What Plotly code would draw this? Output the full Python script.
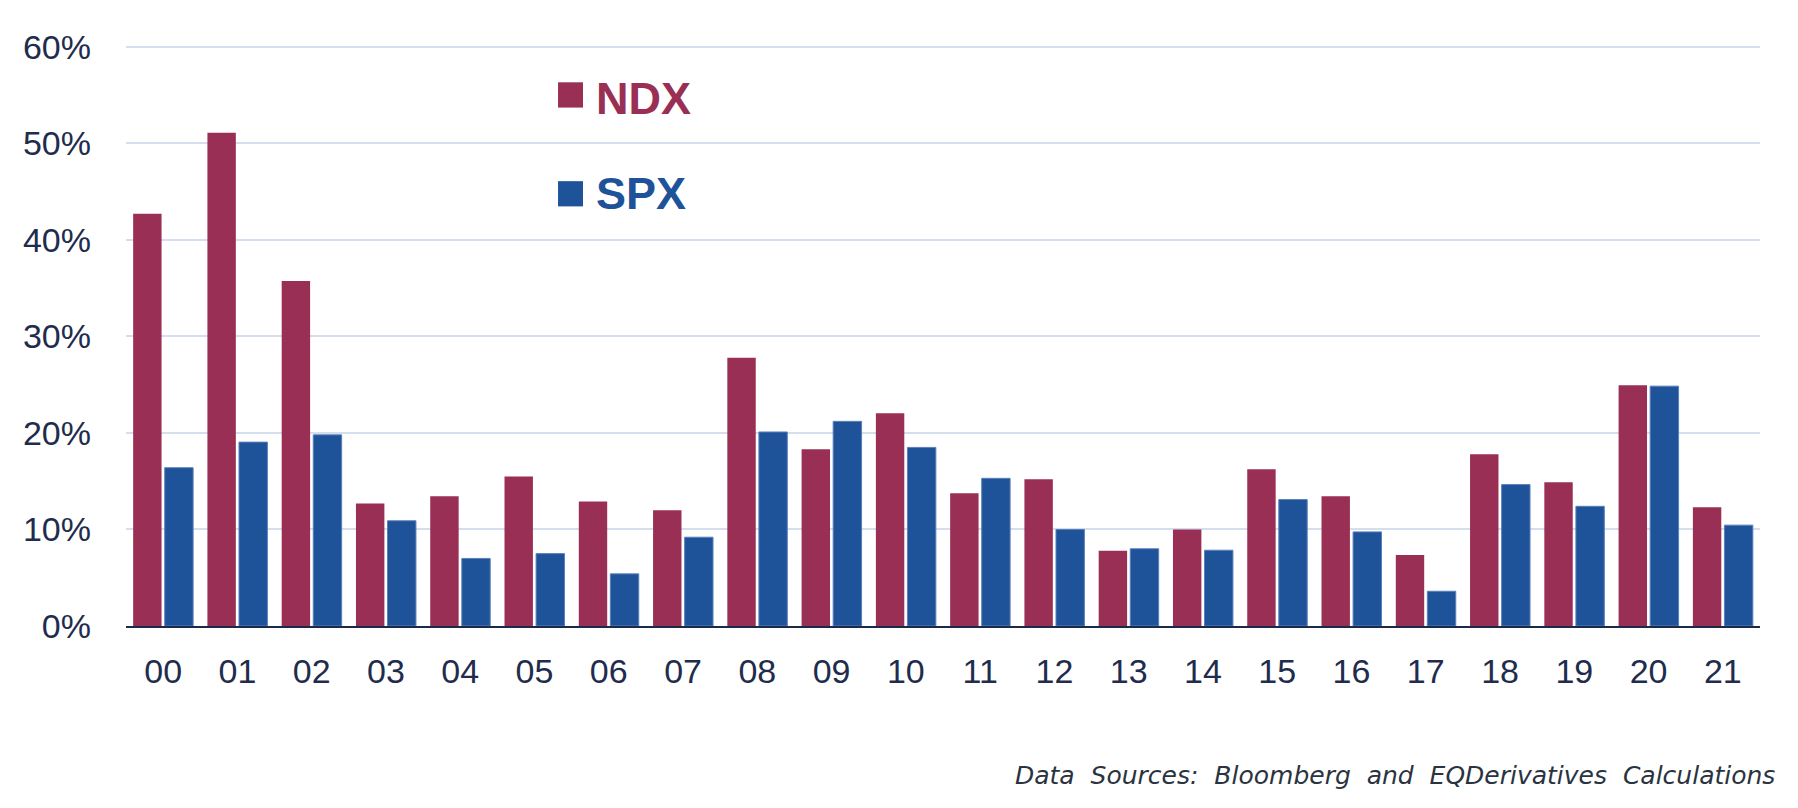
import plotly.graph_objects as go

years = ["00", "01", "02", "03", "04", "05", "06", "07", "08", "09", "10",
         "11", "12", "13", "14", "15", "16", "17", "18", "19", "20", "21"]
ndx = [42.7, 51.1, 35.75, 12.7, 13.45, 15.5, 12.9, 12.0, 27.8, 18.3, 22.05,
       13.75, 15.2, 7.8, 10.0, 16.25, 13.45, 7.35, 17.8, 14.9, 24.95, 12.3]
spx = [16.4, 19.05, 19.8, 10.9, 7.0, 7.5, 5.4, 9.2, 20.1, 21.2, 18.5,
       15.3, 10.0, 8.0, 7.85, 13.1, 9.75, 3.6, 14.65, 12.4, 24.85, 10.45]
y_ticks = [0, 0.1, 0.2, 0.3, 0.4, 0.5, 0.6]

NDX_COLOR = "#9a2f55"
SPX_COLOR = "#1f5399"
TEXT_COLOR = "#1f2c4d"
GRID_COLOR = "#d5deed"
AXIS_COLOR = "#1c2a4a"

fig = go.Figure()
fig.add_trace(go.Bar(x=years, y=[v / 100 for v in ndx], name="NDX",
                     marker=dict(color=NDX_COLOR, line=dict(width=0))))
fig.add_trace(go.Bar(x=years, y=[v / 100 for v in spx], name="SPX",
                     marker=dict(color=SPX_COLOR, line=dict(color="#5a80bb", width=1))))

fig.update_layout(
    width=1790, height=800,
    margin=dict(l=118, r=38, t=34, b=182, autoexpand=False),
    paper_bgcolor="white", plot_bgcolor="white",
    barmode="group", bargap=0.15, bargroupgap=0.1,
    showlegend=False,
    font=dict(family="Liberation Sans, Arial, sans-serif", color=TEXT_COLOR),
)
fig.update_xaxes(
    type="category", showgrid=False, showline=True, linecolor=AXIS_COLOR, linewidth=2,
    ticks="", tickfont=dict(size=34, color=TEXT_COLOR), ticklabelstandoff=14,
)
fig.update_yaxes(
    range=[0, 0.605], tickvals=y_ticks, tickformat=".0%",
    showgrid=True, gridcolor=GRID_COLOR, gridwidth=1.5, zeroline=False, showline=False,
    ticks="", tickfont=dict(size=34, color=TEXT_COLOR), ticklabelstandoff=34,
)

# legend (custom, large)
for name, color, y0, y1, yt in [("NDX", NDX_COLOR, 0.8877, 0.931, 0.9033),
                                ("SPX", SPX_COLOR, 0.7185, 0.7617, 0.741)]:
    fig.add_shape(type="rect", xref="paper", yref="paper", x0=0.2644, x1=0.2797,
                  y0=y0, y1=y1, fillcolor=color, line=dict(width=0))
    fig.add_annotation(xref="paper", yref="paper", x=0.2862, y=yt, xanchor="left",
                       yanchor="middle", showarrow=False, text=f"<b>{name}</b>",
                       font=dict(size=45, color=color, family="Liberation Sans, Arial, sans-serif"))

fig.add_annotation(xref="paper", yref="paper", x=1.0104, y=-0.2556, xanchor="right",
                   yanchor="middle", showarrow=False,
                   text="<i>Data\u00a0 Sources:\u00a0 Bloomberg\u00a0 and\u00a0 EQDerivatives\u00a0 Calculations</i>",
                   font=dict(size=25, color="#2a3340", family="DejaVu Sans, sans-serif"))

fig.write_html("out.html")
